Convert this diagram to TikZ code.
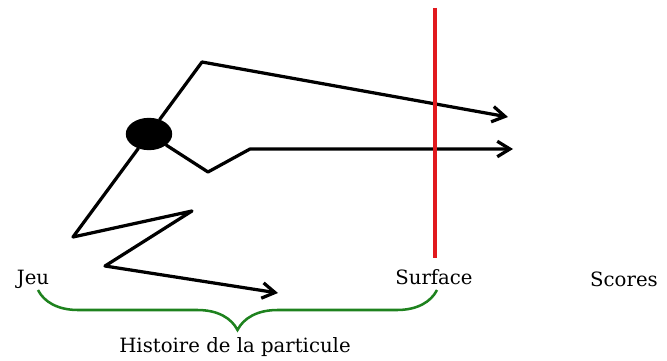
\documentclass[tikz,border=0pt]{standalone}
\usepackage{fontspec}
\setmainfont{DejaVu Serif}
\usetikzlibrary{arrows.meta,shapes.geometric,decorations.pathreplacing}
\definecolor{bracegreen}{RGB}{30,130,30}
\definecolor{surfred}{RGB}{225,25,30}
\tikzset{
	trace/.style={line width=2.3pt, line cap=round, line join=round},
	ball/.style={ellipse, fill=black, inner sep=0pt, minimum width=33pt, minimum height=23pt},
	label/.style={font=\fontsize{14}{16}\selectfont, text=black}
}
\begin{document}
\begin{tikzpicture}[x=0.025cm, y=-0.025cm, >={Straight Barb[length=9pt,width=11pt]}]
	\useasboundingbox (0,0) rectangle (667,361);
	\path (73,237) coordinate (A)
	(192,211) coordinate (B)
	(105,266) coordinate (C)
	(278,293) coordinate (D)
	(202,62) coordinate (T)
	(508,117) coordinate (E)
	(208,172) coordinate (V)
	(250,149) coordinate (W)
	(513,149) coordinate (F)
	(435,8) coordinate (S1)
	(435,258) coordinate (S2)
	(437,290) coordinate (R)
	(38,290) coordinate (L);
	
	\node[ball] (P) at (149,134) {};
	
	\draw[trace, ->] (P) -- (A) -- (B) -- (C) -- (D);
	\draw[trace, ->] (P) -- (T) -- (E);
	\draw[trace, ->] (P) -- (V) -- (W) -- (F);
	
	\draw[surfred, line width=2.8pt] (S1) -- (S2);
	
	\draw[bracegreen, line width=1.8pt, decorate, decoration={brace, amplitude=1cm}] (R) -- (L);
	
	\node[label] (jeu) at (33,279) {Jeu};
	\node[label] (surface) at (434,277) {Surface};
	\node[label] (scores) at (624,279) {Scores};
	\node[label] (histoire) at (235,347) {Histoire de la particule};
\end{tikzpicture}
\end{document}
